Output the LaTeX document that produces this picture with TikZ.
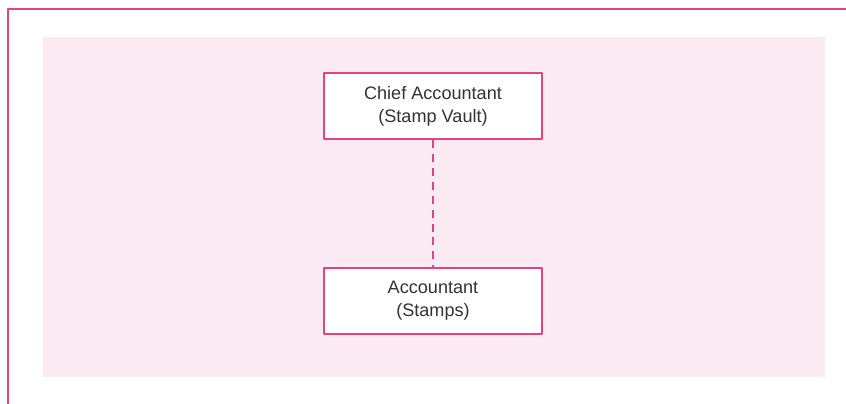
\documentclass[tikz,border=0pt]{standalone}
\usepackage{fontspec}
\setmainfont{Liberation Sans}
\usepackage{tikz}
\usetikzlibrary{positioning}

\definecolor{framepink}{HTML}{E0457F}
\definecolor{bgpink}{HTML}{FBEAF1}
\definecolor{txtgray}{HTML}{333333}

\tikzset{
  rolebox/.style={draw=framepink, line width=1.5pt, fill=white, minimum width=4.36cm, minimum height=1.32cm,
    align=center, text=txtgray, font=\fontsize{10.3pt}{13pt}\selectfont},
  link/.style={draw=framepink, line width=1.5pt, dash pattern=on 4.5pt off 3.4pt}
}

\begin{document}
\begin{tikzpicture}[x=0.02cm, y=-0.02cm, line join=round]

\useasboundingbox (0,0) rectangle (846,403);

\draw[framepink, line width=1.6pt] (8,420) -- (8,9) -- (860,9);
\fill[bgpink] (43,37) rectangle (825,377);

\node[rolebox] (chief) at (433,106) {Chief Accountant\\(Stamp Vault)};
\node[rolebox] (acct) at (433,301) {Accountant\\(Stamps)};

\draw[link] (chief) -- (acct);

\end{tikzpicture}
\end{document}
